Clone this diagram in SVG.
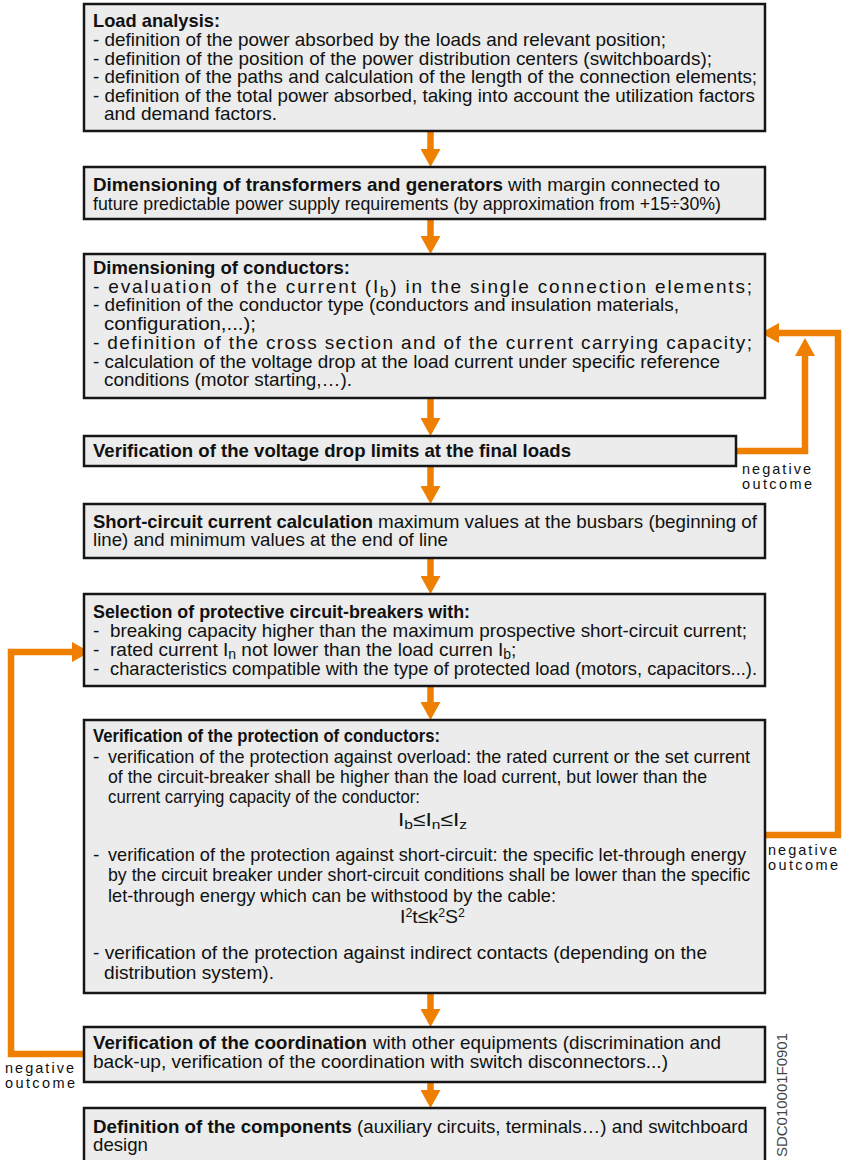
<svg xmlns="http://www.w3.org/2000/svg" width="850" height="1160" viewBox="0 0 850 1160">
<style>
.box{fill:#ebeceb;stroke:#161616;stroke-width:2.5}
.t{font-family:"Liberation Sans",Arial,Helvetica,sans-serif;font-size:19px;fill:#111}
.b{font-weight:bold}
.lab{font-family:"Liberation Sans",Arial,Helvetica,sans-serif;font-size:14.5px;fill:#111}
.conn{fill:none;stroke:#ef7f00;stroke-width:6.5;stroke-linejoin:miter}
.code{font-family:"Liberation Sans",Arial,Helvetica,sans-serif;font-size:15px;fill:#444}
</style>
<defs>
<marker id="ah" markerUnits="userSpaceOnUse" markerWidth="18" markerHeight="20" refX="0" refY="10" orient="auto" viewBox="0 0 18 20"><path d="M0,0 L18,10 L0,20 Z" fill="#ef7f00"/></marker>
</defs>
<rect width="850" height="1160" fill="#ffffff"/>

<g id="connectors">
<line class="conn" x1="430.5" y1="131" x2="430.5" y2="149" marker-end="url(#ah)"/>
<line class="conn" x1="430.5" y1="219" x2="430.5" y2="236" marker-end="url(#ah)"/>
<line class="conn" x1="430.5" y1="398" x2="430.5" y2="418" marker-end="url(#ah)"/>
<line class="conn" x1="430.5" y1="466" x2="430.5" y2="486" marker-end="url(#ah)"/>
<line class="conn" x1="430.5" y1="558" x2="430.5" y2="576" marker-end="url(#ah)"/>
<line class="conn" x1="430.5" y1="686" x2="430.5" y2="702" marker-end="url(#ah)"/>
<line class="conn" x1="430.5" y1="993" x2="430.5" y2="1009" marker-end="url(#ah)"/>
<line class="conn" x1="430.5" y1="1082" x2="430.5" y2="1090" marker-end="url(#ah)"/>
<polyline class="conn" points="736,451 805,451 805,356" marker-end="url(#ah)"/>
<polyline class="conn" points="765,835 838,835 838,333 779,333" marker-end="url(#ah)"/>
<polyline class="conn" points="84,1054 11,1054 11,652 72,652" marker-end="url(#ah)"/>
<text class="lab" x="742" y="474" textLength="69">negative</text>
<text class="lab" x="742" y="489" textLength="70">outcome</text>
<text class="lab" x="768" y="855" textLength="69">negative</text>
<text class="lab" x="768" y="870" textLength="70">outcome</text>
<text class="lab" x="5" y="1073" textLength="69">negative</text>
<text class="lab" x="5" y="1088" textLength="70">outcome</text>
</g>

<g id="load-analysis">
<rect class="box" x="84" y="4" width="681" height="127"/>
<text class="t b" x="93" y="27" textLength="127" lengthAdjust="spacingAndGlyphs">Load analysis:</text>
<text class="t" x="93" y="46" textLength="573" lengthAdjust="spacingAndGlyphs">- definition of the power absorbed by the loads and relevant position;</text>
<text class="t" x="93" y="64.5" textLength="619" lengthAdjust="spacingAndGlyphs">- definition of the position of the power distribution centers (switchboards);</text>
<text class="t" x="93" y="83" textLength="664" lengthAdjust="spacingAndGlyphs">- definition of the paths and calculation of the length of the connection elements;</text>
<text class="t" x="93" y="101.5" textLength="662" lengthAdjust="spacingAndGlyphs">- definition of the total power absorbed, taking into account the utilization factors</text>
<text class="t" x="104" y="120" textLength="173" lengthAdjust="spacingAndGlyphs">and demand factors.</text>
</g>

<g id="transformers">
<rect class="box" x="84" y="167" width="681" height="52"/>
<text class="t b" x="93" y="191" textLength="410" lengthAdjust="spacingAndGlyphs">Dimensioning of transformers and generators</text>
<text class="t" x="508" y="191" textLength="212" lengthAdjust="spacingAndGlyphs">with margin connected to</text>
<text class="t" x="93" y="210" textLength="628" lengthAdjust="spacingAndGlyphs">future predictable power supply requirements (by approximation from +15÷30%)</text>
</g>

<g id="conductors">
<rect class="box" x="84" y="254" width="681" height="144"/>
<text class="t b" x="93" y="274" textLength="257" lengthAdjust="spacingAndGlyphs">Dimensioning of conductors:</text>
<text class="t" x="93" y="293" textLength="659" lengthAdjust="spacing">- evaluation of the current (I<tspan font-size="15" dy="4">b</tspan><tspan dy="-4">) in the single connection elements;</tspan></text>
<text class="t" x="93" y="311" textLength="586" lengthAdjust="spacingAndGlyphs">- definition of the conductor type (conductors and insulation materials,</text>
<text class="t" x="104" y="330" textLength="152" lengthAdjust="spacingAndGlyphs">configuration,...);</text>
<text class="t" x="93" y="349" textLength="659" lengthAdjust="spacing">- definition of the cross section and of the current carrying capacity;</text>
<text class="t" x="93" y="368" textLength="627" lengthAdjust="spacingAndGlyphs">- calculation of the voltage drop at the load current under specific reference</text>
<text class="t" x="104" y="386" textLength="248" lengthAdjust="spacingAndGlyphs">conditions (motor starting,…).</text>
</g>

<g id="voltage-drop">
<rect class="box" x="84" y="436" width="652" height="30"/>
<text class="t b" x="93" y="457" textLength="478" lengthAdjust="spacingAndGlyphs">Verification of the voltage drop limits at the final loads</text>
</g>

<g id="short-circuit">
<rect class="box" x="84" y="504" width="681" height="54"/>
<text class="t b" x="93" y="528" textLength="280" lengthAdjust="spacingAndGlyphs">Short-circuit current calculation</text>
<text class="t" x="378" y="528" textLength="379" lengthAdjust="spacingAndGlyphs">maximum values at the busbars (beginning of</text>
<text class="t" x="93" y="546" textLength="355" lengthAdjust="spacingAndGlyphs">line) and minimum values at the end of line</text>
</g>

<g id="breakers">
<rect class="box" x="84" y="594" width="681" height="92"/>
<text class="t b" x="93" y="618" textLength="377" lengthAdjust="spacingAndGlyphs">Selection of protective circuit-breakers with:</text>
<text class="t" x="93" y="637">-</text>
<text class="t" x="110" y="637" textLength="637" lengthAdjust="spacingAndGlyphs">breaking capacity higher than the maximum prospective short-circuit current;</text>
<text class="t" x="93" y="656">-</text>
<text class="t" x="110" y="656" font-size="18">rated current I<tspan font-size="14" dy="3">n</tspan><tspan dy="-3"> not lower than the load curren I</tspan><tspan font-size="14" dy="3">b</tspan><tspan dy="-3">;</tspan></text>
<text class="t" x="93" y="675">-</text>
<text class="t" x="110" y="675" textLength="647" lengthAdjust="spacingAndGlyphs">characteristics compatible with the type of protected load (motors, capacitors...).</text>
</g>

<g id="protection">
<rect class="box" x="84" y="720" width="681" height="273"/>
<text class="t b" x="93" y="742" textLength="347" lengthAdjust="spacingAndGlyphs">Verification of the protection of conductors:</text>
<text class="t" x="93" y="763">-</text>
<text class="t" x="108" y="763" textLength="642" lengthAdjust="spacingAndGlyphs">verification of the protection against overload: the rated current or the set current</text>
<text class="t" x="108" y="783" textLength="599" lengthAdjust="spacingAndGlyphs">of the circuit-breaker shall be higher than the load current, but lower than the</text>
<text class="t" x="108" y="803" textLength="312" lengthAdjust="spacingAndGlyphs">current carrying capacity of the conductor:</text>
<text class="t" x="398" y="826" textLength="69" lengthAdjust="spacingAndGlyphs">I<tspan font-size="13" dy="3">b</tspan><tspan dy="-3">≤I</tspan><tspan font-size="13" dy="3">n</tspan><tspan dy="-3">≤I</tspan><tspan font-size="13" dy="3">z</tspan></text>
<text class="t" x="93" y="861">-</text>
<text class="t" x="108" y="861" textLength="638" lengthAdjust="spacingAndGlyphs">verification of the protection against short-circuit: the specific let-through energy</text>
<text class="t" x="108" y="881" textLength="642" lengthAdjust="spacingAndGlyphs">by the circuit breaker under short-circuit conditions shall be lower than the specific</text>
<text class="t" x="108" y="902" textLength="448" lengthAdjust="spacingAndGlyphs">let-through energy which can be withstood by the cable:</text>
<text class="t" x="400" y="923" textLength="65" lengthAdjust="spacingAndGlyphs">I<tspan font-size="12" dy="-6">2</tspan><tspan dy="6">t≤k</tspan><tspan font-size="12" dy="-6">2</tspan><tspan dy="6">S</tspan><tspan font-size="12" dy="-6">2</tspan></text>
<text class="t" x="93" y="959" textLength="614" lengthAdjust="spacingAndGlyphs">- verification of the protection against indirect contacts (depending on the</text>
<text class="t" x="104" y="979" textLength="170" lengthAdjust="spacingAndGlyphs">distribution system).</text>
</g>

<g id="coordination">
<rect class="box" x="84" y="1027" width="681" height="55"/>
<text class="t b" x="93" y="1049" textLength="274" lengthAdjust="spacingAndGlyphs">Verification of the coordination</text>
<text class="t" x="373" y="1049" textLength="348" lengthAdjust="spacingAndGlyphs">with other equipments (discrimination and</text>
<text class="t" x="93" y="1068" textLength="575" lengthAdjust="spacingAndGlyphs">back-up, verification of the coordination with switch disconnectors...)</text>
</g>

<g id="components">
<rect class="box" x="84" y="1108" width="681" height="62"/>
<text class="t b" x="93" y="1133" textLength="259" lengthAdjust="spacingAndGlyphs">Definition of the components</text>
<text class="t" x="357" y="1133" textLength="391" lengthAdjust="spacingAndGlyphs">(auxiliary circuits, terminals…) and switchboard</text>
<text class="t" x="93" y="1151" textLength="55" lengthAdjust="spacingAndGlyphs">design</text>
</g>

<text class="code" transform="translate(787,1157) rotate(-90)" textLength="124">SDC010001F0901</text>
</svg>
